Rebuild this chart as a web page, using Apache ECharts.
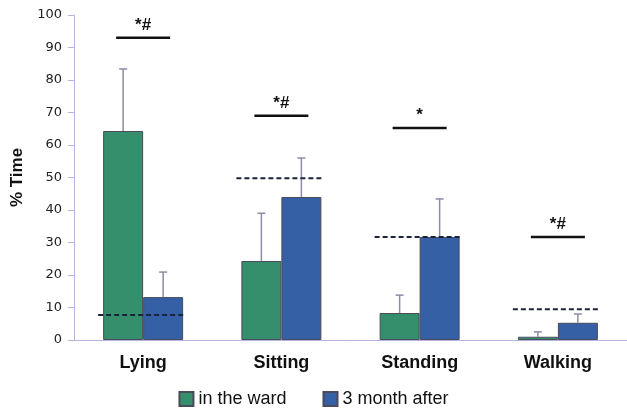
<!DOCTYPE html>
<html>
<head>
<meta charset="utf-8">
<script src="https://cdn.jsdelivr.net/npm/echarts@6/dist/echarts.min.js"></script>
<style>
  html, body { margin: 0; padding: 0; background: #fff; }
  #chart { width: 627px; height: 417px; }
</style>
</head>
<body>
<div id="chart"></div>
<script>
const categories = ['Lying', 'Sitting', 'Standing', 'Walking'];
const wardValues = [64.3, 24.3, 8.3, 1.0];
const wardSD = [19.1, 14.7, 5.5, 1.5];
const afterValues = [13.2, 44.0, 31.7, 5.3];
const afterSD = [7.7, 12.0, 11.7, 2.7];
const referenceValues = [7.7, 49.8, 31.7, 9.5];
const sigHeights = [93, 69, 65.2, 31.7];
const sigLabels = ['*#', '*#', '*', '*#'];
const yTicks = [0, 10, 20, 30, 40, 50, 60, 70, 80, 90, 100];

const green = '#358f6c';
const blue = '#3560a6';
const errColor = '#8c8ca8';

function errorBars(offset) {
  return function (params, api) {
    const base = api.coord([api.value(0), api.value(1)]);
    const top = api.coord([api.value(0), api.value(2)]);
    const cx = base[0] + offset;
    const style = { stroke: errColor, lineWidth: 1.5 };
    return {
      type: 'group',
      children: [
        { type: 'line', shape: { x1: cx, y1: base[1], x2: cx, y2: top[1] }, style: style },
        { type: 'line', shape: { x1: cx - 4, y1: top[1], x2: cx + 4, y2: top[1] }, style: style }
      ]
    };
  };
}

const chart = echarts.init(document.getElementById('chart'));
chart.setOption({
  backgroundColor: '#fff',
  animation: false,
  grid: { left: 74, right: -3, top: 15, bottom: 77 },
  legend: {
    data: ['in the ward', '3 month after'],
    bottom: 4,
    left: 'center',
    itemWidth: 14,
    itemHeight: 14,
    itemGap: 36,
    icon: 'rect',
    textStyle: { fontFamily: 'Liberation Sans', fontSize: 18, color: '#111' }
  },
  xAxis: {
    type: 'category',
    data: categories,
    axisLine: { lineStyle: { color: '#b4b4dc', width: 1 } },
    axisTick: { show: false },
    axisLabel: {
      margin: 14,
      fontFamily: 'Liberation Sans',
      fontWeight: 'bold',
      fontSize: 18,
      color: '#111'
    }
  },
  yAxis: {
    type: 'value',
    min: 0,
    max: 100,
    interval: 10,
    name: '% Time',
    nameLocation: 'middle',
    nameGap: 46,
    nameTextStyle: { fontFamily: 'Liberation Sans', fontWeight: 'bold', fontSize: 17, color: '#111' },
    axisLine: { show: true, lineStyle: { color: '#b4b4dc' } },
    axisTick: { show: true, length: 6, lineStyle: { color: '#b4b4dc' } },
    splitLine: { show: false },
    axisLabel: {
      margin: 12,
      fontFamily: 'DejaVu Sans',
      fontSize: 13,
      color: '#222',
      formatter: function (v) { return yTicks.indexOf(v) >= 0 ? String(v) : ''; }
    }
  },
  series: [
    {
      name: 'in the ward',
      type: 'bar',
      data: wardValues,
      barWidth: 40,
      barGap: '0%',
      itemStyle: { color: green, borderColor: '#4a4a5a', borderWidth: 1 }
    },
    {
      name: '3 month after',
      type: 'bar',
      data: afterValues,
      barWidth: 40,
      itemStyle: { color: blue, borderColor: '#4a4a5a', borderWidth: 1 }
    },
    {
      type: 'custom',
      renderItem: errorBars(-20),
      encode: { x: 0, y: [1, 2] },
      data: wardValues.map((v, i) => [i, v, v + wardSD[i]]),
      z: 3
    },
    {
      type: 'custom',
      renderItem: errorBars(20),
      encode: { x: 0, y: [1, 2] },
      data: afterValues.map((v, i) => [i, v, v + afterSD[i]]),
      z: 3
    },
    {
      type: 'custom',
      renderItem: function (params, api) {
        const p = api.coord([api.value(0), api.value(1)]);
        return {
          type: 'line',
          shape: { x1: p[0] - 45, y1: p[1], x2: p[0] + 43, y2: p[1] },
          style: { stroke: '#1c2338', lineWidth: 2, lineDash: [5, 3] }
        };
      },
      encode: { x: 0, y: 1 },
      data: referenceValues.map((v, i) => [i, v]),
      z: 4
    },
    {
      type: 'custom',
      renderItem: function (params, api) {
        const p = api.coord([api.value(0), api.value(1)]);
        return {
          type: 'group',
          children: [
            {
              type: 'line',
              shape: { x1: p[0] - 27, y1: p[1], x2: p[0] + 27, y2: p[1] },
              style: { stroke: '#111', lineWidth: 2.5 }
            },
            {
              type: 'text',
              x: p[0],
              y: p[1] - 4,
              style: {
                text: sigLabels[params.dataIndex],
                textAlign: 'center',
                textVerticalAlign: 'bottom',
                font: 'bold 17px "Liberation Sans"',
                fill: '#111'
              }
            }
          ]
        };
      },
      encode: { x: 0, y: 1 },
      data: sigHeights.map((v, i) => [i, v]),
      z: 5
    }
  ]
});
</script>
</body>
</html>
